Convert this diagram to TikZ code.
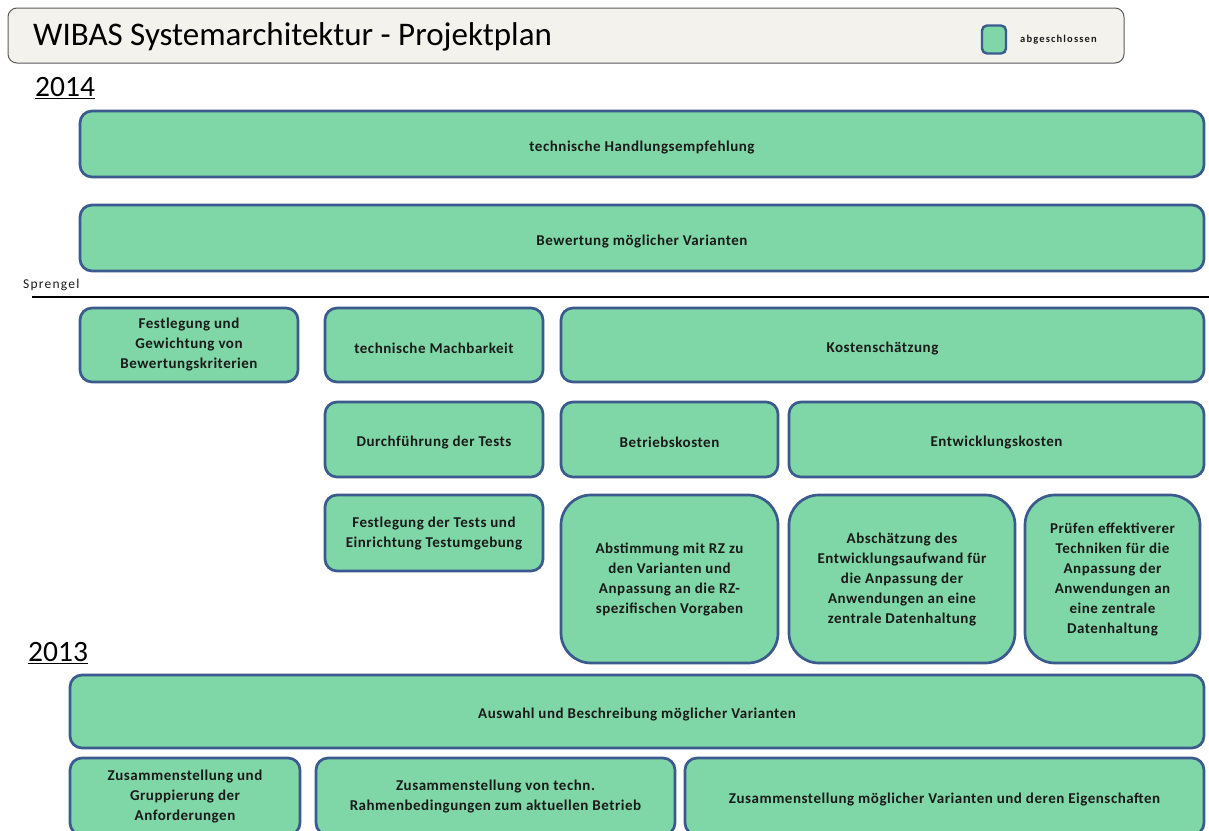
\documentclass[tikz,border=0pt]{standalone}
\usepackage{fontspec}
\setmainfont{Carlito}
\newfontfamily\boxfont[LetterSpace=3.5]{Carlito}
\newfontfamily\smallfont[LetterSpace=9]{Carlito}
\newfontfamily\legfont[LetterSpace=11]{Carlito}
\definecolor{boxfill}{HTML}{7FD6A6}
\definecolor{boxline}{HTML}{3B5B8E}
\definecolor{titlefill}{HTML}{F3F2EC}
\definecolor{titleline}{HTML}{5A5A5A}
\definecolor{txt}{HTML}{1A1A1A}
\begin{document}
\begin{tikzpicture}[x=1pt,y=-1pt,
  task/.style={draw=boxline, fill=boxfill, line width=2.7pt, rounded corners=12pt,
    inner sep=0pt, align=center, text=txt,
    font=\boxfont\fontsize{15}{20}\selectfont\bfseries,
    execute at begin node={\rule{0pt}{17pt}}},
  tall/.style={task, rounded corners=30pt},
  year/.style={inner sep=0pt, anchor=west, font=\fontsize{29.5}{32}\selectfont, text=black}
]
\clip (0,0) rectangle (1209,830);
\useasboundingbox (0,0) rectangle (1209,830);
\fill[white] (0,0) rectangle (1209,830);

% title bar
\node[draw=titleline, fill=titlefill, line width=1pt, rounded corners=9pt,
  minimum width=1116pt, minimum height=55pt, inner sep=0pt] (title) at (566,35.5) {};
\node[anchor=west, inner sep=0pt, font=\fontsize{33}{36}\selectfont] (titletext) at (33,37) {WIBAS Systemarchitektur - Projektplan};
\node[draw=boxline, fill=boxfill, line width=2.4pt, rounded corners=5pt,
  minimum width=24pt, minimum height=28pt, inner sep=0pt] (legbox) at (994,39.5) {};
\node[anchor=west, inner sep=0pt, font=\legfont\fontsize{10.5}{12}\selectfont\bfseries, text=txt] (legtext) at (1020,40) {abgeschlossen};

% years
\node[year] (y2014) at (35,88) {\underline{2014}};
\node[year] (y2013) at (28,653) {\underline{2013}};

% Sprengel line
\node[anchor=west, inner sep=0pt, font=\smallfont\fontsize{13.5}{15}\selectfont, text=txt] (spr) at (23,285) {Sprengel};
\coordinate (lineL) at (32,297);
\coordinate (lineR) at (1209,297);
\draw[line width=1.3pt, black] (lineL) -- (lineR);

% 2014 tasks
\node[task, minimum width=1124pt, minimum height=66pt] (the) at (642,144) {technische Handlungsempfehlung};
\node[task, minimum width=1124pt, minimum height=66pt] (bew) at (642,238) {Bewertung möglicher Varianten};

\node[task, minimum width=218pt, minimum height=74pt] (fest) at (189,345) {Festlegung und\\Gewichtung von\\Bewertungskriterien};
\node[task, minimum width=218pt, minimum height=74pt] (mach) at (434,345) {technische Machbarkeit};
\node[task, minimum width=643pt, minimum height=74pt] (kost) at (882.5,345) {Kostenschätzung};

\node[task, minimum width=218pt, minimum height=75pt] (durch) at (434,439.5) {Durchführung der Tests};
\node[task, minimum width=217pt, minimum height=75pt] (betr) at (669.5,439.5) {Betriebskosten};
\node[task, minimum width=415pt, minimum height=75pt] (entw) at (996.5,439.5) {Entwicklungskosten};

\node[task, minimum width=218pt, minimum height=76pt] (festT) at (434,533) {Festlegung der Tests und\\Einrichtung Testumgebung};
\node[tall, minimum width=217pt, minimum height=168pt] (abst) at (669.5,579) {Abstimmung mit RZ zu\\den Varianten und\\Anpassung an die RZ-\\spezifischen Vorgaben};
\node[tall, minimum width=226pt, minimum height=168pt] (absch) at (902,579) {Abschätzung des\\Entwicklungsaufwand  für\\die Anpassung  der\\Anwendungen an eine\\zentrale Datenhaltung};
\node[tall, minimum width=175pt, minimum height=168pt] (pruef) at (1112.5,579) {Prüfen effektiverer\\Techniken für die\\Anpassung  der\\Anwendungen an\\eine zentrale\\Datenhaltung};

% 2013 tasks
\node[task, minimum width=1134pt, minimum height=73pt] (ausw) at (637,711.5) {Auswahl und Beschreibung möglicher Varianten};
\node[task, minimum width=230pt, minimum height=77pt] (zg) at (185,796.5) {Zusammenstellung und\\Gruppierung der\\Anforderungen};
\node[task, minimum width=359pt, minimum height=77pt] (zt) at (495.5,796.5) {Zusammenstellung von techn.\\Rahmenbedingungen zum aktuellen Betrieb};
\node[task, minimum width=519pt, minimum height=77pt] (zv) at (944.5,796.5) {Zusammenstellung möglicher Varianten und deren Eigenschaften};
\end{tikzpicture}
\end{document}
